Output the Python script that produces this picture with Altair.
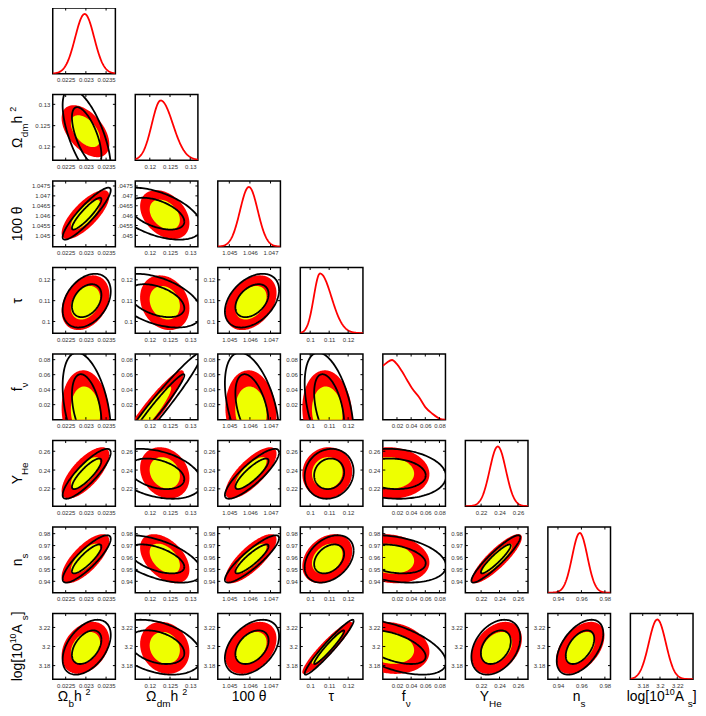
import numpy as np
import pandas as pd
import altair as alt

FONT = "Liberation Sans"
RED = "#ff0000"
YELLOW = "#eeff00"
W, H = 63, 66

# ---------------- values ----------------
LABEL_SEGS = [
    [("Ω", "M"), ("b", "S"), (" h", "M"), ("2", "P")],
    [("Ω", "M"), ("dm", "S"), (" h", "M"), ("2", "P")],
    [("100 θ", "M")],
    [("τ", "M")],
    [("f", "M"), ("ν", "S")],
    [("Y", "M"), ("He", "S")],
    [("n", "M"), ("s", "S")],
    [("log[10", "M"), ("10", "P"), (" A", "M"), ("s", "S"), ("]", "M")],
]
XLAB_SHIFT = [-10, 0, 0, 0, -8, -6, 0, 0]
YLAB_SHIFT = [0, 0, 10, 0, 0, 0, 0, 0]

XDOM = [(0.02218, 0.02373), (0.1164, 0.1319), (1.04444, 1.04748), (0.0948, 0.1278),
        (0.0, 0.0885), (0.2029, 0.2709), (0.9314, 0.9848), (3.1657, 3.2383)]
YDOM = [(0.0, 1.0), (0.1169, 0.1323), (1.04443, 1.04775), (0.0944, 0.1259),
        (0.0, 0.0875), (0.2016, 0.2714), (0.9305, 0.98555), (3.1658, 3.2346)]
XTICKS = [[0.0225, 0.023, 0.0235], [0.12, 0.125, 0.13], [1.045, 1.046, 1.047],
          [0.1, 0.11, 0.12], [0.02, 0.04, 0.06, 0.08], [0.22, 0.24, 0.26],
          [0.94, 0.96, 0.98], [3.18, 3.2, 3.22]]
YTICKS = [[], [0.12, 0.125, 0.13], [1.045, 1.0455, 1.046, 1.0465, 1.047, 1.0475],
          [0.1, 0.11, 0.12], [0.02, 0.04, 0.06, 0.08], [0.22, 0.24, 0.26],
          [0.94, 0.95, 0.96, 0.97, 0.98], [3.18, 3.2, 3.22]]

# 1D marginals (peak, left width, right width); f_nu read point by point
PEAK_1D = [0.02297, 0.1227, 1.04595, 0.1052, 0.0, 0.2381, 0.9586, 3.1969]
SIGL_1D = [0.000235, 0.0022, 0.00043, 0.0033, 0.0, 0.0088, 0.0065, 0.0099]
SIGR_1D = [0.000235, 0.0030, 0.00043, 0.0060, 0.0, 0.0088, 0.0065, 0.0099]
FNU_X = [0.0, 0.006, 0.013, 0.020, 0.027, 0.034, 0.041, 0.051, 0.060, 0.070, 0.080, 0.0885]
FNU_P = [0.90, 0.96, 1.00, 0.93, 0.81, 0.67, 0.53, 0.38, 0.21, 0.10, 0.02, 0.0]

# filled (red / yellow) 2D regions
MEAN_FILL = [0.02299, 0.1237, 1.04605, 0.109, 0.010, 0.237, 0.959, 3.1986]
SIG_FILL = [0.000238, 0.00246, 0.0005, 0.0053, 0.0225, 0.011, 0.0083, 0.011]
RHO_FILL = [
    [],
    [-0.5],
    [0.75, -0.35],
    [0.3, -0.2, 0.35],
    [-0.1, 0.93, -0.1, -0.1],
    [0.7, -0.2, 0.75, 0.05, -0.05],
    [0.72, -0.45, 0.78, 0.3, -0.15, 0.86],
    [0.3, -0.15, 0.35, 0.93, -0.15, 0.35, 0.45],
]
# panel (f_nu, Omega_dm): centre and width of Omega_dm
FILL_OVERRIDE = {(4, 1): (0.1203, 0.00328)}

# black contour lines
MEAN_LINE = [0.02302, 0.1217, 1.0461, 0.110, 0.015, 0.236, 0.9588, 3.1993]
SIG_LINE = [0.00024, 0.0045, 0.00053, 0.0052, 0.030, 0.0107, 0.008, 0.0116]
RHO_LINE = [
    [],
    [-0.65],
    [0.9, -0.5],
    [0.35, -0.45, 0.4],
    [-0.4, 0.97, -0.45, -0.45],
    [0.85, -0.35, 0.85, 0.1, -0.1],
    [0.85, -0.55, 0.88, 0.35, -0.3, 0.92],
    [0.45, -0.35, 0.4, 0.96, -0.55, 0.35, 0.5],
]
# panel (Omega_dm, Omega_b): centre and width of Omega_dm for the lines
LINE_OVERRIDE = {(1, 0): (0.1225, 0.0045)}
LEVELS = [1.52, 2.48]

# ---------------- helpers ----------------
CW = {'Ω': 0.768, 'b': 0.556, 'h': 0.556, '2': 0.556, 'd': 0.556, 'm': 0.833, '1': 0.556,
      '0': 0.556, ' ': 0.278, 'θ': 0.556, 'τ': 0.45, 'f': 0.278, 'ν': 0.5, 'Y': 0.667,
      'H': 0.722, 'e': 0.556, 'n': 0.556, 's': 0.5, 'l': 0.222, 'o': 0.556, 'g': 0.556,
      '[': 0.278, ']': 0.278, 'A': 0.667}
SIZES = {"M": 14, "S": 10, "P": 9}
SHIFT = {"M": 0, "S": 6, "P": -6}
ONE = pd.DataFrame({"k": [0]})
TICK = 2.5


def seg_width(text, kind):
    return sum(CW.get(c, 0.556) for c in text) * SIZES[kind]


def label_layers(segs, ax, ay, angle):
    total = sum(seg_width(t, k) for t, k in segs)
    pos = -total / 2
    out = []
    for t, k in segs:
        out.append(
            alt.Chart(ONE).mark_text(
                text=t, font=FONT, fontSize=SIZES[k], align="left", baseline="alphabetic",
                dx=pos, dy=SHIFT[k], angle=angle, color="black"
            ).encode(x=alt.value(ax), y=alt.value(ay))
        )
        pos += seg_width(t, k)
    return out


def xenc(j):
    return alt.X("x:Q", scale=alt.Scale(domain=list(XDOM[j]), nice=False, zero=False),
                 axis=alt.Axis(values=XTICKS[j], format="~g", labelFont=FONT, labelFontSize=6,
                               labelColor="#333", ticks=False, domain=False, grid=False,
                               title=None, labelPadding=3, labelOverlap=False, labelFlush=False))


def yenc(i, j):
    kw = {}
    if i == 2 and j >= 1:
        kw["labelExpr"] = "substring(datum.label, 1)"
    return alt.Y("y:Q", scale=alt.Scale(domain=list(YDOM[i]), nice=False, zero=False),
                 axis=alt.Axis(values=YTICKS[i], format="~g", labelFont=FONT, labelFontSize=6,
                               labelColor="#333", ticks=False, domain=False, grid=False,
                               title=None, labelPadding=3, labelOverlap=False, labelFlush=False,
                               **kw))


def xtick_layers(j):
    df = pd.DataFrame({"x": XTICKS[j]})
    base = alt.Chart(df).mark_rule(color="black", strokeWidth=1)
    return [base.encode(x=xenc(j), y=alt.value(H), y2=alt.value(H - TICK)),
            base.encode(x=xenc(j), y=alt.value(0), y2=alt.value(TICK))]


def ytick_layers(i, j):
    df = pd.DataFrame({"y": YTICKS[i]})
    base = alt.Chart(df).mark_rule(color="black", strokeWidth=1)
    return [base.encode(y=yenc(i, j), x=alt.value(0), x2=alt.value(TICK)),
            base.encode(y=yenc(i, j), x=alt.value(W), x2=alt.value(W - TICK))]


def band(mx, my, sx, sy, rho, r, n=90):
    t = np.linspace(0, np.pi, n)
    u, w = np.cos(t), np.sin(t)
    x = mx + r * sx * u
    yc = my + r * sy * rho * u
    h = r * sy * np.sqrt(1 - rho ** 2) * w
    return x, yc - h, yc + h


def ring(mx, my, sx, sy, rho, r, n=160):
    t = np.linspace(0, 2 * np.pi, n)
    x = mx + r * sx * np.cos(t)
    y = my + r * sy * (rho * np.cos(t) + np.sqrt(1 - rho ** 2) * np.sin(t))
    return x, y


def extra_labels(i, j):
    out = []
    if j == 0 and i >= 1:
        out += label_layers(LABEL_SEGS[i], -31, H / 2 + YLAB_SHIFT[i], 270)
    if i == 7:
        out += label_layers(LABEL_SEGS[j], W / 2 + XLAB_SHIFT[j], H + 22, 0)
    return out


def offdiag(i, j):
    mx, sx = MEAN_FILL[j], SIG_FILL[j]
    my, sy = MEAN_FILL[i], SIG_FILL[i]
    if (i, j) in FILL_OVERRIDE:
        mx, sx = FILL_OVERRIDE[(i, j)]
    rho = RHO_FILL[i][j]
    layers = []
    for r, col in [(LEVELS[1], RED), (LEVELS[0], YELLOW)]:
        x, lo, hi = band(mx, my, sx, sy, rho, r)
        df = pd.DataFrame({"x": x, "y": lo, "y2": hi})
        layers.append(alt.Chart(df).mark_area(color=col, clip=True, opacity=1).encode(
            x=xenc(j), y=yenc(i, j), y2="y2:Q"))
    lmy, lsy = MEAN_LINE[i], SIG_LINE[i]
    if (i, j) in LINE_OVERRIDE:
        lmy, lsy = LINE_OVERRIDE[(i, j)]
    rows = []
    for lev, r in enumerate(LEVELS):
        x, y = ring(MEAN_LINE[j], lmy, SIG_LINE[j], lsy, RHO_LINE[i][j], r)
        rows.append(pd.DataFrame({"x": x, "y": y, "lev": lev, "k": np.arange(len(x))}))
    dfl = pd.concat(rows, ignore_index=True)
    layers.append(alt.Chart(dfl).mark_line(color="black", strokeWidth=1.8, clip=True).encode(
        x=xenc(j), y=yenc(i, j), detail="lev:N", order="k:Q"))
    layers += xtick_layers(j) + ytick_layers(i, j)
    layers += extra_labels(i, j)
    return alt.layer(*layers).properties(width=W, height=H)


def diag(i):
    if i == 4:
        df = pd.DataFrame({"x": FNU_X, "y": FNU_P})
        interp = "monotone"
    else:
        x = np.linspace(XDOM[i][0], XDOM[i][1], 140)
        s = np.where(x < PEAK_1D[i], SIGL_1D[i], SIGR_1D[i])
        df = pd.DataFrame({"x": x, "y": np.exp(-0.5 * ((x - PEAK_1D[i]) / s) ** 2)})
        interp = "linear"
    layers = [alt.Chart(df).mark_line(color=RED, strokeWidth=1.8, clip=True, interpolate=interp).encode(
        x=xenc(i),
        y=alt.Y("y:Q", scale=alt.Scale(domain=[0, 1.1], nice=False, zero=False), axis=None))]
    layers += xtick_layers(i)
    layers += extra_labels(i, i)
    return alt.layer(*layers).properties(width=W, height=H)


def blank():
    return alt.Chart(ONE).mark_text(text=" ", fontSize=1).encode(
        x=alt.value(W / 2), y=alt.value(H / 2)
    ).properties(width=W, height=H, view=alt.ViewBackground(stroke="transparent"))


cells = []
for i in range(8):
    for j in range(8):
        if j < i:
            cells.append(offdiag(i, j))
        elif j == i:
            cells.append(diag(i))
        else:
            cells.append(blank())

chart = alt.concat(*cells, columns=8, spacing={"row": 21, "column": 20}, bounds="flush").properties(
    padding={"left": 0, "top": -4, "right": 0, "bottom": 0}
).configure_view(stroke="black", strokeWidth=1.5)

chart.save("out.html", embed_options={"renderer": "svg", "actions": False})
